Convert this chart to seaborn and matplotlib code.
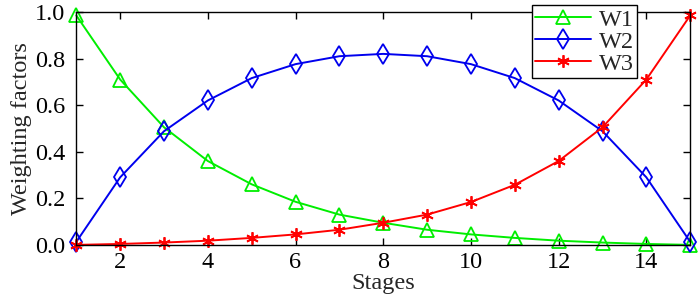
"""
Weighting factors across stages.
"""
import numpy as np
import pandas as pd
import seaborn as sns
import matplotlib
matplotlib.use('Agg')
import matplotlib.pyplot as plt

stages = list(range(1, 16))
w1 = [0.985, 0.71, 0.505, 0.36, 0.26, 0.185, 0.13, 0.095, 0.065, 0.045, 0.03,
      0.018, 0.01, 0.004, 0.0]
w2 = [0.013, 0.29, 0.488, 0.62, 0.716, 0.776, 0.81, 0.82, 0.81, 0.776, 0.716,
      0.62, 0.488, 0.29, 0.013]
w3 = [0.0, 0.004, 0.01, 0.018, 0.03, 0.045, 0.065, 0.095, 0.13, 0.184, 0.258,
      0.36, 0.505, 0.71, 0.985]

series = [
    ('W1', w1, '#00ee00', '^', 10.5),
    ('W2', w2, '#0000ee', 'd', 10.5),
    ('W3', w3, '#ff0000', (6, 2, 0), 9),
]

FS = 17.5

sns.set_style('ticks')
plt.rcParams['font.family'] = ['Liberation Serif', 'DejaVu Serif']

fig, ax = plt.subplots(figsize=(7, 2.99), dpi=100)
fig.subplots_adjust(left=0.109, right=0.986, top=0.96, bottom=0.181)

for name, vals, color, marker, ms in series:
    df = pd.DataFrame({'Stage': stages, 'Value': vals})
    sns.lineplot(data=df, x='Stage', y='Value', ax=ax, color=color, lw=1.4,
                 marker=marker, ms=ms, mfc='none', mec=color, mew=1.3,
                 label=name, clip_on=False)

ax.set_xlim(1, 15)
ax.set_ylim(0, 1)
ax.set_xticks(range(2, 15, 2))
ax.set_yticks(np.arange(0, 1.01, 0.2))
ax.set_yticklabels(['{:.1f}'.format(v) for v in np.arange(0, 1.01, 0.2)])
ax.tick_params(direction='in', length=5, width=1, top=True, right=True,
               labelsize=FS, colors='black')
ax.tick_params(axis='x', pad=5)
ax.tick_params(axis='y', pad=8)
for s in ax.spines.values():
    s.set_visible(True)
    s.set_linewidth(1)
    s.set_color('black')

ax.set_xlabel('Stages', fontsize=FS, labelpad=0)
ax.set_ylabel('Weighting factors', fontsize=FS, labelpad=2)

leg = ax.legend(loc='upper right', bbox_to_anchor=(0.914, 1.03), fontsize=FS,
                frameon=True, fancybox=False, edgecolor='black', framealpha=1,
                handlelength=2.3, handletextpad=0.3, borderpad=0.15,
                labelspacing=0.0, borderaxespad=0)
leg.get_frame().set_linewidth(1)

plt.savefig('out.png', dpi=100)
plt.close()
